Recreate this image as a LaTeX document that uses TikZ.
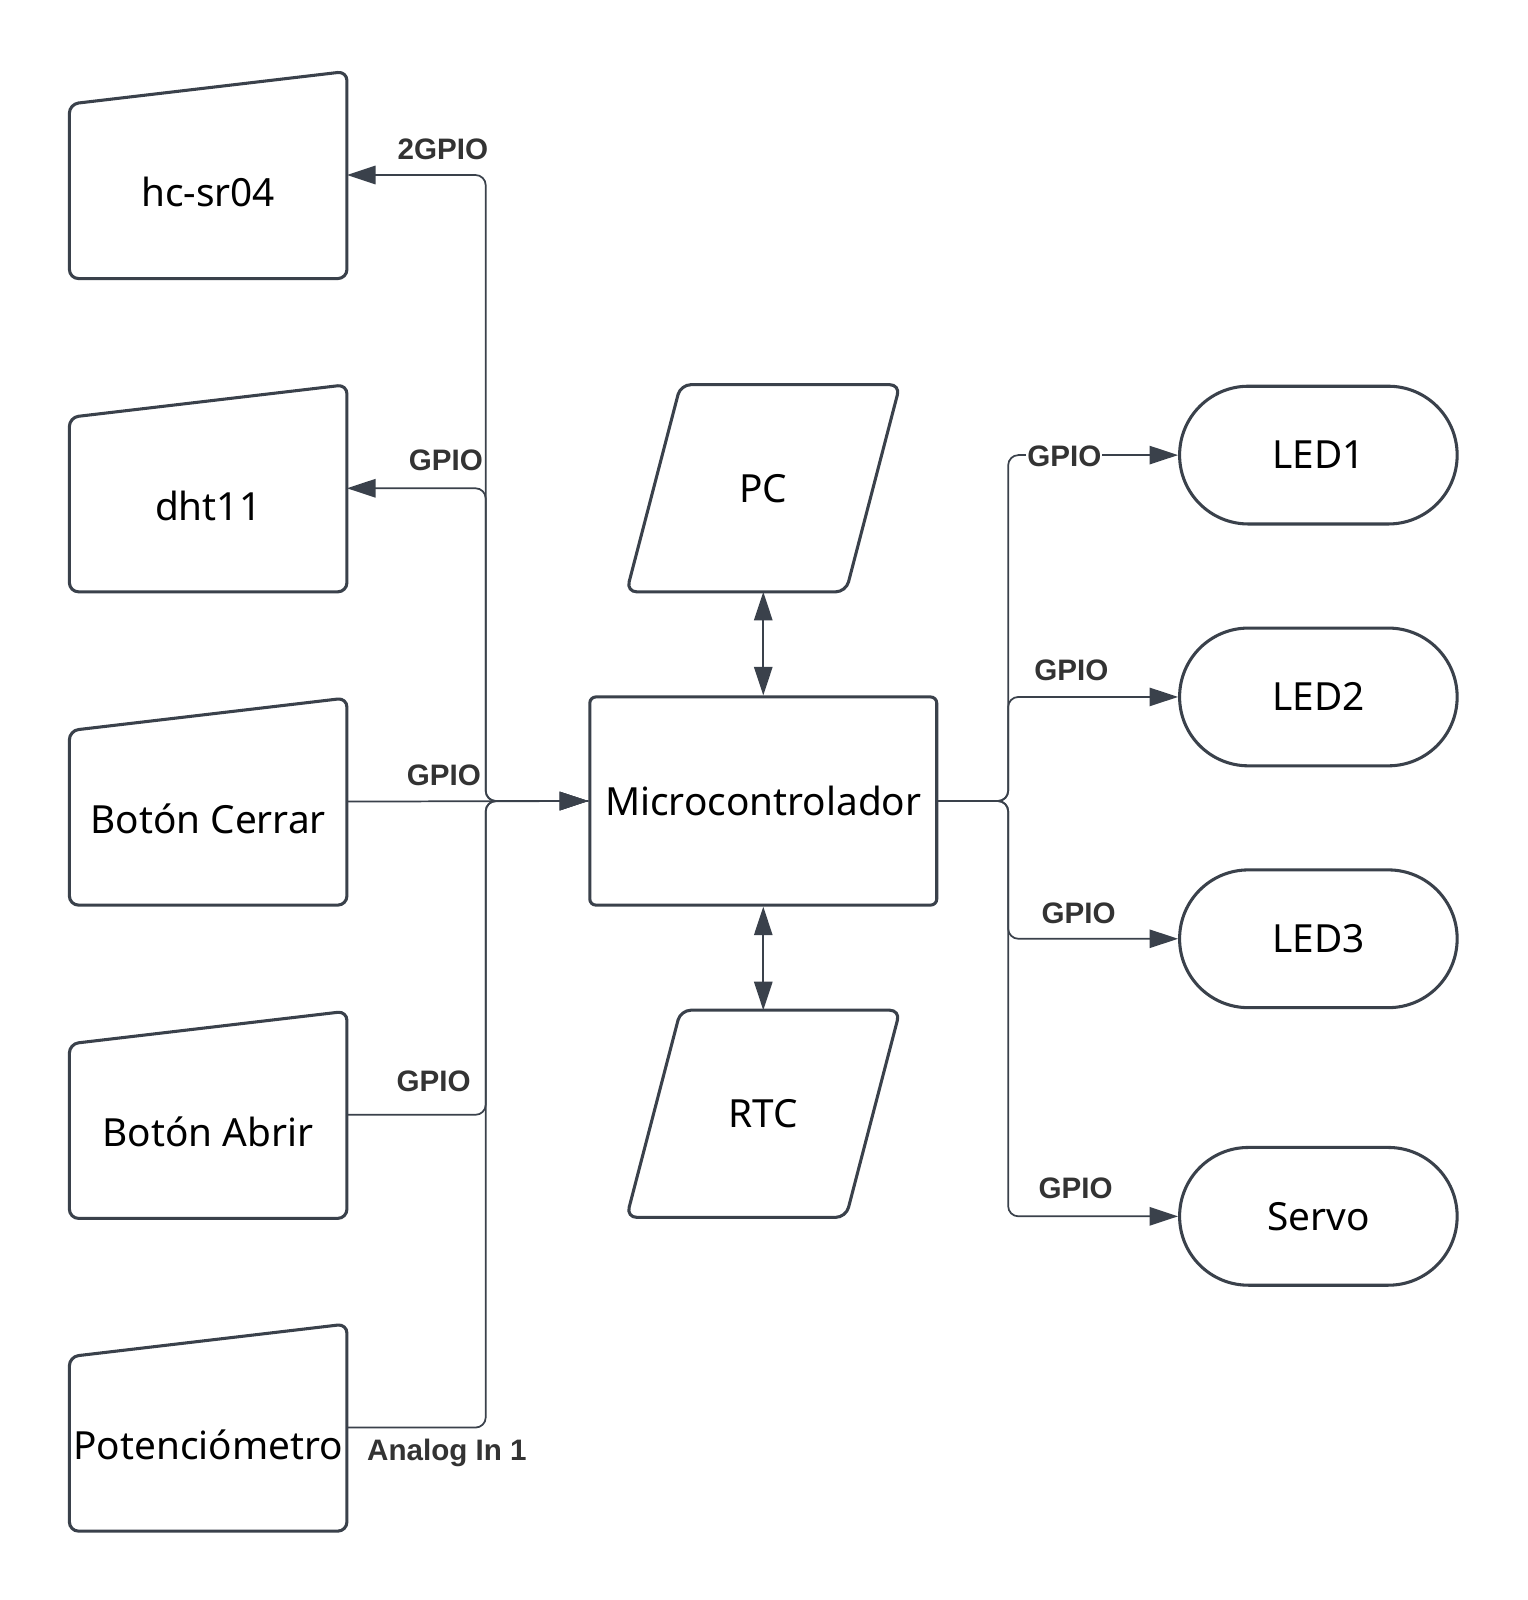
\documentclass[tikz,border=0pt]{standalone}
\usepackage{fontspec}
\setmainfont{Noto Sans}
\newfontfamily\labfont{Liberation Sans}
\usetikzlibrary{arrows.meta,calc}
\definecolor{ln}{HTML}{3A414B}
\definecolor{lbl}{HTML}{333333}
\begin{document}
\begin{tikzpicture}[x=0.5pt,y=-0.5pt,
  anchorbox/.style={draw=none, minimum width=136pt, minimum height=101.5pt, inner sep=0pt, outer sep=0pt},
  pgram/.style={draw=none, minimum width=134pt, minimum height=101.5pt, inner sep=0pt, outer sep=0pt},
  shapeline/.style={draw=ln, line width=1.5pt, rounded corners=4.5pt},
  mcbox/.style={draw=ln, line width=1.5pt, rounded corners=3pt, minimum width=170pt, minimum height=102pt, inner sep=0pt, font=\fontsize{19}{22}\selectfont},
  stadium/.style={draw=ln, line width=1.5pt, rounded corners=33.7pt, minimum width=136pt, minimum height=67.5pt, inner sep=0pt, font=\fontsize{19}{22}\selectfont},
  conn/.style={draw=ln, line width=0.85pt, rounded corners=5pt},
  tip/.style={-{Triangle[length=14pt,width=9pt]}},
  tips/.style={{Triangle[length=14pt,width=9pt]}-{Triangle[length=14pt,width=9pt]}},
  lab/.style={font=\labfont\bfseries\fontsize{14.5}{16}\selectfont, text=lbl, inner sep=1pt},
  txt/.style={font=\fontsize{19}{22}\selectfont, text=black}
]
\useasboundingbox (0,0) rectangle (1497,1568);
\fill[white] (0,0) rectangle (1497,1568);

% left manual-input shapes
\foreach \n/\y/\t in {hc/171.5/hc-sr04, dh/478.5/dht11, bc/785.5/Botón Cerrar, ba/1092.5/Botón Abrir, po/1399/Potenciómetro}{
  \node[anchorbox] (\n) at (204,\y) {};
  \draw[shapeline] (\n.south west) -- ($(\n.north west)+(0,32)$) -- (\n.north east) -- (\n.south east) -- cycle;
  \node[txt] (\n-t) at ($(\n.center)+(0,17)$) {\t};
}

% central
\node[mcbox] (mc) at (748,785) {Microcontrolador};

\node[pgram] (pc) at (748,478.5) {};
\draw[shapeline, rounded corners=5pt] (pc.south west) -- ($(pc.north west)+(53,0)$) -- (pc.north east) -- ($(pc.south east)+(-53,0)$) -- cycle;
\node[txt] (pc-t) at (pc.center) {PC};

\node[pgram] (rtc) at (748,1091.5) {};
\draw[shapeline, rounded corners=5pt] (rtc.south west) -- ($(rtc.north west)+(53,0)$) -- (rtc.north east) -- ($(rtc.south east)+(-53,0)$) -- cycle;
\node[txt] (rtc-t) at (rtc.center) {RTC};

% right stadiums
\node[stadium] (l1) at (1292,446) {LED1};
\node[stadium] (l2) at (1292,683) {LED2};
\node[stadium] (l3) at (1292,920) {LED3};
\node[stadium] (sv) at (1292,1192) {Servo};

% trunks
\coordinate (tl) at (476,0);
\coordinate (tr) at (988,0);

% left connectors
\draw[conn,tip] (mc.west) -- (mc.west -| tl) |- (hc.east);
\draw[conn,tip] (mc.west) -- (mc.west -| tl) |- (dh.east);
\draw[conn,tip] (bc.east) -- (mc.west);
\draw[conn,tip] (ba.east) -| (mc.west -| tl) -- (mc.west);
\draw[conn,tip] (po.east) -| (mc.west -| tl) -- (mc.west);

% vertical links
\draw[conn,tips] (pc.south) -- (mc.north);
\draw[conn,tips] (mc.south) -- (rtc.north);

% right connectors
\draw[conn,tip] (mc.east) -- (mc.east -| tr) |- (l1.west);
\draw[conn,tip] (mc.east) -- (mc.east -| tr) |- (l2.west);
\draw[conn,tip] (mc.east) -- (mc.east -| tr) |- (l3.west);
\draw[conn,tip] (mc.east) -- (mc.east -| tr) |- (sv.west);

% labels
\node[lab] (g0) at (434,146) {2GPIO};
\node[lab] (g1) at (437,451) {GPIO};
\node[lab] (g2) at (435,760) {GPIO};
\node[lab] (g3) at (425,1060) {GPIO};
\node[lab] (g4) at (438,1424) {Analog In 1};
\node[lab, fill=white, inner xsep=0.5pt] (g5) at (1043,447) {GPIO};
\node[lab] (g6) at (1050,657) {GPIO};
\node[lab] (g7) at (1057,895) {GPIO};
\node[lab] (g8) at (1054,1165) {GPIO};
\end{tikzpicture}
\end{document}
